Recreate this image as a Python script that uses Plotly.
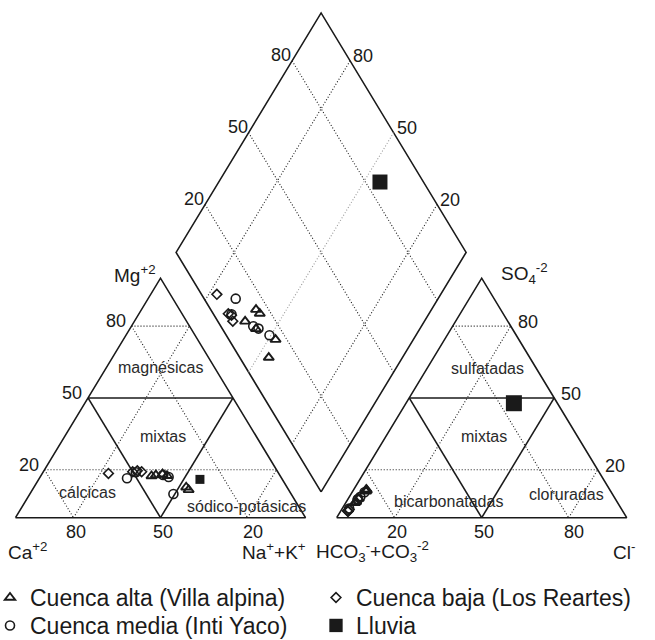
import numpy as np
import plotly.graph_objects as go

# ---------------- sample chemistry (% of meq/L) ----------------
# Cuenca alta (Villa alpina)
alta_ca = [44.4, 42.7, 40.2, 39.0, 34.8, 34.5]
alta_mg = [17.4, 17.8, 18.2, 17.5, 12.7, 11.6]
alta_na = [38.2, 39.5, 41.6, 43.5, 52.5, 53.9]
alta_hco3 = [90.6, 84.4, 83.9, 88.4, 83.9, 90.0]
alta_so4 = [6.2, 11.0, 11.4, 8.0, 11.8, 6.6]
alta_cl = [3.2, 4.6, 4.7, 3.6, 4.3, 3.4]

# Cuenca media (Inti Yaco)
media_ca = [53.3, 49.0, 40.2, 38.7, 40.6]
media_mg = [16.5, 19.0, 17.8, 17.0, 9.9]
media_na = [30.2, 32.0, 42.0, 44.3, 49.5]
media_hco3 = [89.1, 93.8, 88.8, 87.5, 85.1]
media_so4 = [7.4, 3.8, 7.8, 8.7, 10.6]
media_cl = [3.5, 2.4, 3.4, 3.8, 4.3]

# Cuenca baja (Los Reartes)
baja_ca = [58.7, 50.0, 48.2, 46.9]
baja_mg = [18.5, 19.2, 19.6, 19.2]
baja_na = [22.8, 30.8, 32.2, 33.9]
baja_hco3 = [94.7, 94.8, 94.0, 94.8]
baja_so4 = [2.8, 2.9, 3.4, 2.6]
baja_cl = [2.5, 2.3, 2.6, 2.6]

# Lluvia
lluvia_ca = [28.4]
lluvia_mg = [16.0]
lluvia_na = [55.6]
lluvia_hco3 = [15.0]
lluvia_so4 = [47.8]
lluvia_cl = [37.2]

tick_values = [20, 50, 80]

# ---------------- Piper geometry (plot units = pixels) ----------------
S = 290.0          # triangle side (horizontal)
H = 239.5          # triangle height
BASE_Y = 517.7
CAT_X0 = 15.5
AN_X0 = 336.7
GAP = AN_X0 - (CAT_X0 + S)
B = np.array([CAT_X0 + S + GAP / 2, BASE_Y - (GAP / 2) * H / (S / 2)])
VL = np.array([-S / 2, -H])   # bottom -> left corner of diamond
VR = np.array([S / 2, -H])    # bottom -> right corner of diamond


def cation_xy(mg, na):
    mg = np.asarray(mg, float); na = np.asarray(na, float)
    return CAT_X0 + S * (na + mg / 2) / 100, BASE_Y - H * mg / 100


def anion_xy(so4, cl):
    so4 = np.asarray(so4, float); cl = np.asarray(cl, float)
    return AN_X0 + S * (cl + so4 / 2) / 100, BASE_Y - H * so4 / 100


def diamond_xy(na, so4cl):
    u = 1 - np.asarray(na, float) / 100
    v = np.asarray(so4cl, float) / 100
    return B[0] + u * VL[0] + v * VR[0], B[1] + u * VL[1] + v * VR[1]


fig = go.Figure()
INK = "#1a1a1a"


def seg(xy_a, xy_b, width=1.6, dash=None, color=INK):
    fig.add_trace(go.Scatter(
        x=[float(xy_a[0]), float(xy_b[0])], y=[float(xy_a[1]), float(xy_b[1])],
        mode="lines", line=dict(color=color, width=width, dash=dash),
        hoverinfo="skip", showlegend=False))


def poly(pts, width=1.6):
    xs = [float(p[0]) for p in pts] + [float(pts[0][0])]
    ys = [float(p[1]) for p in pts] + [float(pts[0][1])]
    fig.add_trace(go.Scatter(x=xs, y=ys, mode="lines",
                             line=dict(color=INK, width=width),
                             hoverinfo="skip", showlegend=False))


DOT = "1px,2px"


def triangle_frame(fn):
    # fn(top, right) -> xy ; top = apex component, right = right-corner component
    poly([fn(0, 0), fn(0, 100), fn(100, 0)])
    for k in (20, 80):
        seg(fn(k, 0), fn(k, 100 - k), 1.1, DOT)          # parallel to base
        seg(fn(100 - k, 0), fn(0, 100 - k), 1.1, DOT)    # left-corner component = k
        seg(fn(0, k), fn(100 - k, k), 1.1, DOT)          # right-corner component = k
    seg(fn(50, 0), fn(50, 50), 1.6)
    seg(fn(50, 0), fn(0, 50), 1.6)
    seg(fn(0, 50), fn(50, 50), 1.6)


triangle_frame(cation_xy)
triangle_frame(anion_xy)

# diamond
poly([diamond_xy(100, 0), diamond_xy(0, 0), diamond_xy(0, 100), diamond_xy(100, 100)])
for k in tick_values:
    seg(diamond_xy(0, k), diamond_xy(100, k), 1.1, DOT)
    col = "#9a9a9a" if k == 50 else INK
    seg(diamond_xy(100 - k, 0), diamond_xy(100 - k, 100), 1.1, DOT, col)


# ---------------- samples ----------------
def add_series(name, mg, na, so4, cl, symbol, size, lw, legend):
    so4cl = np.asarray(so4) + np.asarray(cl)
    cx, cy = cation_xy(mg, na)
    ax, ay = anion_xy(so4, cl)
    dx, dy = diamond_xy(na, so4cl)
    x = np.concatenate([cx, ax, dx])
    y = np.concatenate([cy, ay, dy])
    fig.add_trace(go.Scatter(
        x=x, y=y, mode="markers", name=name, legend=legend,
        marker=dict(symbol=symbol, size=size, color=INK, opacity=1,
                    line=dict(color=INK, width=lw)),
        hoverinfo="skip"))


add_series("Cuenca alta (Villa alpina)", alta_mg, alta_na, alta_so4, alta_cl,
           "triangle-up-open", 9, 1.9, "legend")
add_series("Cuenca baja (Los Reartes)", baja_mg, baja_na, baja_so4, baja_cl,
           "diamond-open", 7.5, 1.6, "legend2")
add_series("Cuenca media (Inti Yaco)", media_mg, media_na, media_so4, media_cl,
           "circle-open", 9, 1.6, "legend3")
add_series("Lluvia", lluvia_mg, lluvia_na, lluvia_so4, lluvia_cl,
           "square", [9, 16, 15], 0, "legend4")

# ---------------- text ----------------
FONT = "Liberation Sans, Arial, sans-serif"
ann = []


def txt(x, y, s, size, xanchor="center", dx=0, dy=0, color=INK):
    ann.append(dict(x=float(x), y=float(y), text=s, showarrow=False,
                    xanchor=xanchor, yanchor="middle", xshift=dx, yshift=dy,
                    font=dict(family=FONT, size=size, color=color)))


TK = 18
for k in tick_values:
    # cation triangle: Mg on the left side, Ca along the base
    x, y = cation_xy(k, 0); txt(x, y, str(k), TK, dx=-16, dy=5)
    x, y = cation_xy(0, 100 - k); txt(x, y, str(k), TK, dx=2 + (k == 20) * 3, dy=-14)
    # anion triangle: SO4 on the right side, Cl along the base
    x, y = anion_xy(k, 100 - k); txt(x, y, str(k), TK, dx=17, dy=4)
    x, y = anion_xy(0, k); txt(x, y, str(k), TK, dx=2 + (k == 80) * 3, dy=-14)
    # diamond: SO4+Cl on the upper-left side, Ca+Mg on the upper-right side
    x, y = diamond_xy(0, k); txt(x, y, str(k), TK, dx=-11, dy=6)
    x, y = diamond_xy(100 - k, 100); txt(x, y, str(k), TK, dx=13, dy=5)

CL = 19
txt(112, 274, "Mg<sup>+2</sup>", CL, "left")
txt(499, 273, "SO<sub>4</sub><sup>-2</sup>", CL, "left")
txt(6, 551, "Ca<sup>+2</sup>", CL, "left")
txt(240, 551, "Na<sup>+</sup>+K<sup>+</sup>", CL, "left")
txt(314, 551, "HCO<sub>3</sub><sup>-</sup>+CO<sub>3</sub><sup>-2</sup>", CL, "left")
txt(611, 551, "Cl<sup>-</sup>", CL, "left")

RG = 16
RC = "#2a2a2a"
txt(160, 367, "magnésicas", RG, color=RC)
txt(163, 436, "mixtas", RG, color=RC)
txt(87, 492, "cálcicas", RG, color=RC)
txt(246, 506, "sódico-potásicas", RG, color=RC)
txt(487, 368, "sulfatadas", RG, color=RC)
txt(484, 436, "mixtas", RG, color=RC)
txt(448, 501, "bicarbonatadas", RG, color=RC)
txt(566, 494, "cloruradas", RG, color=RC)


def legend_box(x_px, y_px):
    return dict(orientation="v", xanchor="left", yanchor="top",
                x=x_px / 655, y=1 - y_px / 640,
                itemsizing="trace", font=dict(family=FONT, size=23, color=INK),
                bgcolor="rgba(0,0,0,0)")


fig.update_layout(
    width=655, height=640,
    margin=dict(l=0, r=0, t=0, b=0, autoexpand=False),
    paper_bgcolor="white", plot_bgcolor="white",
    xaxis=dict(range=[0, 655], visible=False, fixedrange=True),
    yaxis=dict(range=[640, 0], visible=False, fixedrange=True),
    annotations=ann,
    showlegend=True,
    legend=legend_box(-10, 576),
    legend2=legend_box(316, 576),
    legend3=legend_box(-10, 604),
    legend4=legend_box(316, 604),
)

fig.write_html("out.html")
